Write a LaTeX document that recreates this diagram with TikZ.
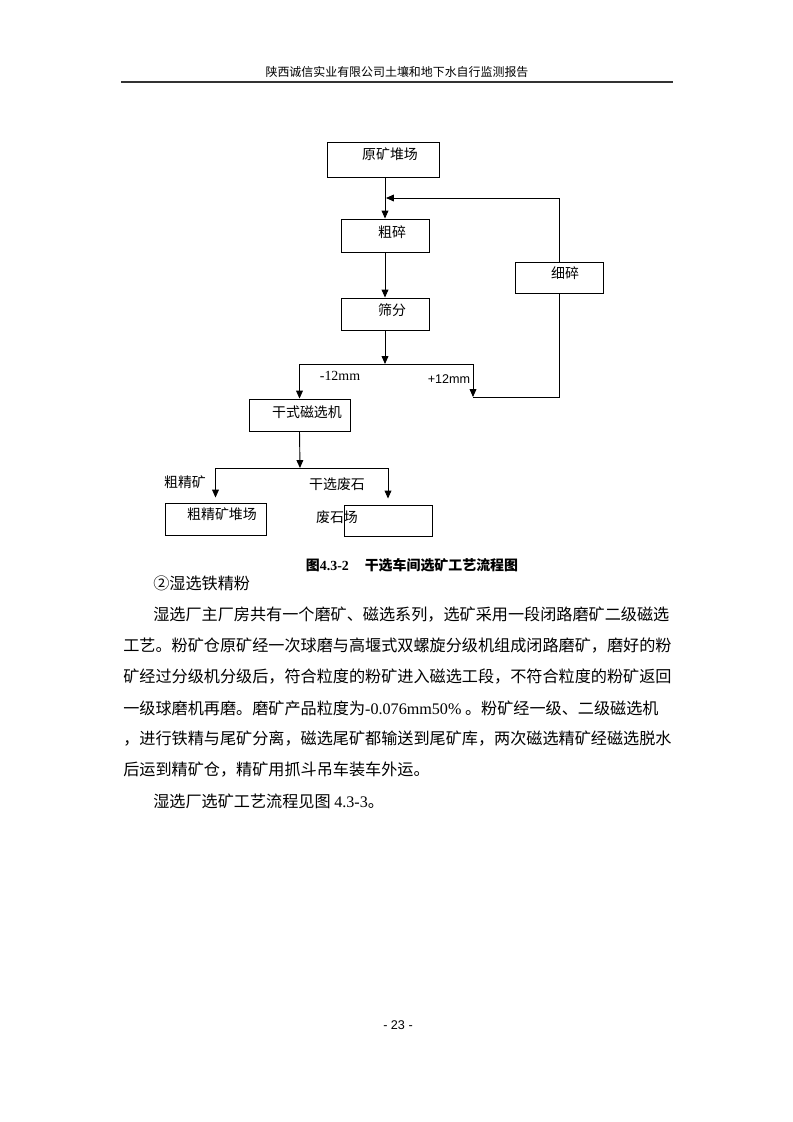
\documentclass[tikz,border=0pt]{standalone}
\usepackage{fontspec}
\setmainfont{Liberation Serif}
\newfontfamily\cjk{Noto Sans CJK SC}
\newfontfamily\arial{Liberation Sans}
\usetikzlibrary{arrows.meta}
\newlength\pxu
\setlength\pxu{0.2648mm}

\tikzset{
  box/.style={draw,line width=0.7pt,inner sep=0pt,minimum width=88\pxu,minimum height=32\pxu},
  widebox/.style={box,minimum width=101\pxu},
  boxtext/.style={font=\cjk\fontsize{10.5}{12}\selectfont,inner sep=0pt},
  para/.style={anchor=west,inner sep=0pt,font=\cjk\fontsize{12.15}{14}\selectfont},
  arr/.style={line width=0.7pt,-{Triangle[length=2.1mm,width=1.8mm]}},
  ln/.style={line width=0.7pt}
}

\begin{document}
\begin{tikzpicture}[x=0.2648mm,y=-0.2648mm]
\useasboundingbox (0,0) rectangle (793,1122);
\node[font=\cjk\fontsize{9}{11}\selectfont,inner sep=0pt] (head) at (397,72) {陕西诚信实业有限公司土壤和地下水自行监测报告};
\draw[line width=1.1pt,black!80] (121,82) -- (673,82);

\node[box,minimum width=112\pxu,minimum height=35\pxu] (yuan) at (383,159.5) {};
\node[boxtext] (yuant) at (390,154) {原矿堆场};
\node[box,minimum height=33\pxu] (cu) at (385,235.5) {};
\node[boxtext] (cut) at (392,232) {粗碎};
\node[box] (shai) at (385,314) {};
\node[boxtext] (shait) at (392,310) {筛分};
\node[box,minimum height=31\pxu] (xi) at (559,277.5) {};
\node[boxtext] (xit) at (565,273) {细碎};
\node[widebox] (gan) at (299.5,415) {};
\node[boxtext] (gant) at (307,412) {干式磁选机};
\node[widebox] (jing) at (215.5,519) {};
\node[boxtext] (jingt) at (222,514) {粗精矿堆场};
\node[box,minimum height=31\pxu] (fei) at (388,520.5) {};

\coordinate (back) at (386,198);
\coordinate (fen) at (385,364);
\coordinate (plus) at (473,397);
\coordinate (gan2) at (300,468);

\draw[arr] (cu.north |- yuan.south) -- (cu.north);
\draw[arr] (xi.north) |- (back);
\draw[arr] (cu.south) -- (shai.north);
\draw[arr] (shai.south) -- (fen);
\draw[ln] (gan.north |- fen) -- (fen -| plus);
\draw[arr] (gan.north |- fen) -- (gan.north);
\draw[arr] (fen -| plus) -- (plus);
\draw[ln] (xi.south) |- (plus);
\draw[arr] (gan.south) -- (gan2);
\draw[ln] (jing.north |- gan2) -- (fei.north |- gan2);
\draw[arr,shorten >=5\pxu] (jing.north |- gan2) -- (jing.north);
\draw[arr,shorten >=6\pxu] (fei.north |- gan2) -- (fei.north);

\node[font=\fontsize{10.5}{12}\selectfont,inner sep=0pt] (minus) at (340,376) {-12mm};
\node[font=\arial\fontsize{9.5}{12}\selectfont,inner sep=0pt] (plust) at (449,379) {+12mm};
\node[boxtext] (cujingt) at (185,482) {粗精矿};
\node[boxtext] (feishit) at (337,484) {干选废石};
\node[boxtext] (feit) at (337,517) {废石场};

\node[font=\bfseries\fontsize{10.5}{12}\selectfont,inner sep=0pt] (cap) at (412,565) {{\cjk 图}4.3-2\hspace{4.2mm}{\cjk 干选车间选矿工艺流程图}};

\node[para] (sec) at (153,583) {②湿选铁精粉};
\node[para] (l1) at (153,615) {湿选厂主厂房共有一个磨矿、磁选系列，选矿采用一段闭路磨矿二级磁选};
\node[para] (l2) at (123,646) {工艺。粉矿仓原矿经一次球磨与高堰式双螺旋分级机组成闭路磨矿，磨好的粉};
\node[para] (l3) at (123,677) {矿经过分级机分级后，符合粒度的粉矿进入磁选工段，不符合粒度的粉矿返回};
\node[para] (l4) at (123,708) {一级球磨机再磨。磨矿产品粒度为{\rmfamily -0.076mm50\%} 。粉矿经一级、二级磁选机};
\node[para] (l5) at (123,739) {，进行铁精与尾矿分离，磁选尾矿都输送到尾矿库，两次磁选精矿经磁选脱水};
\node[para] (l6) at (123,770) {后运到精矿仓，精矿用抓斗吊车装车外运。};
\node[para] (l7) at (153,801) {湿选厂选矿工艺流程见图 {\rmfamily 4.3-3}。};

\node[font=\arial\fontsize{9.5}{11}\selectfont,inner sep=0pt] (page) at (398,1025) {- 23 -};
\end{tikzpicture}
\end{document}
